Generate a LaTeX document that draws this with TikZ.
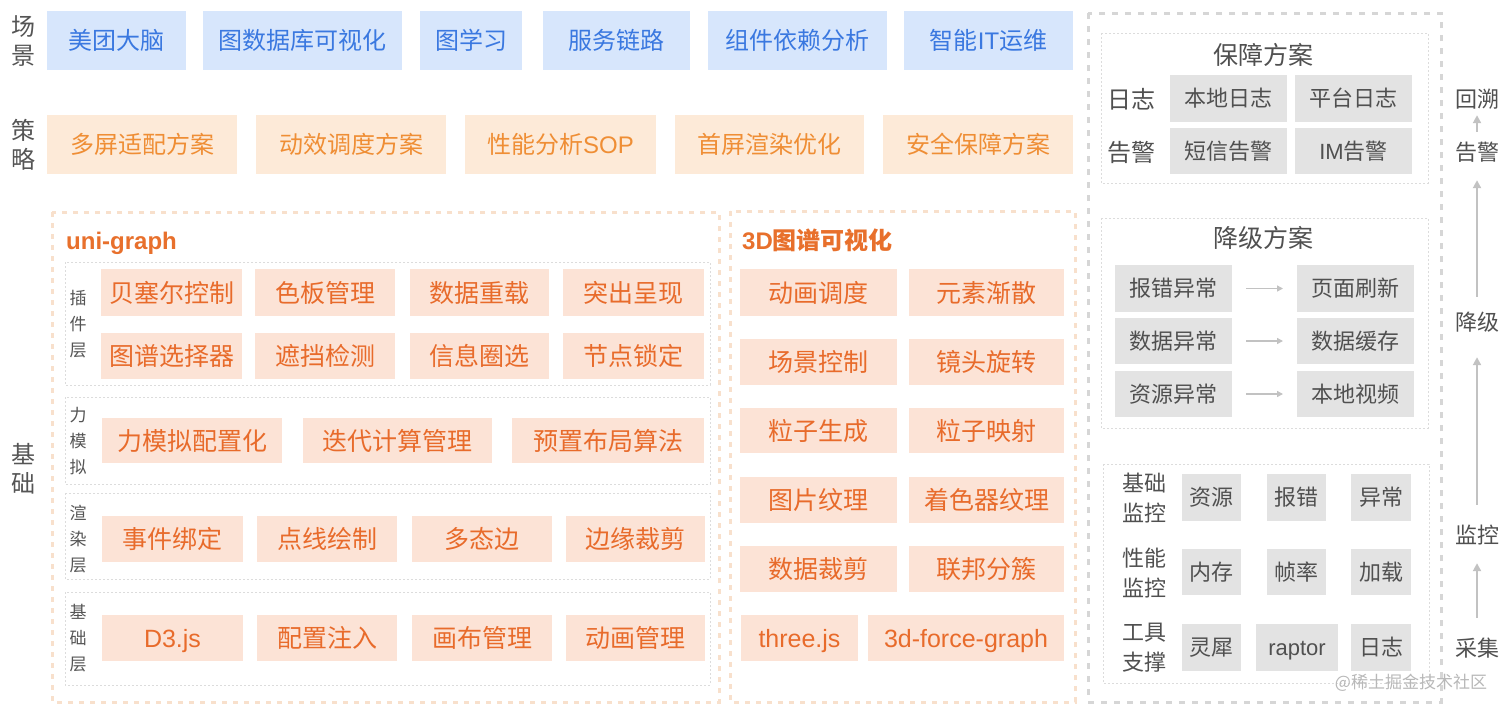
\documentclass[tikz,border=0pt]{standalone}
\usepackage{fontspec}
\setmainfont{Noto Sans CJK SC}
\newfontfamily\lat{Liberation Sans}
\usetikzlibrary{arrows.meta}
\definecolor{sceneFill}{HTML}{D7E6FC}
\definecolor{sceneText}{HTML}{3A78E0}
\definecolor{stratFill}{HTML}{FDEAD8}
\definecolor{stratText}{HTML}{EF8E35}
\definecolor{baseFill}{HTML}{FCE3D6}
\definecolor{baseText}{HTML}{E86B2B}
\definecolor{titleText}{HTML}{E8702C}
\definecolor{grayFill}{HTML}{E3E3E3}
\definecolor{grayText}{HTML}{505050}
\definecolor{labelText}{HTML}{555555}
\definecolor{orangeDash}{HTML}{F8E0CC}
\definecolor{grayDash}{HTML}{D6D6D6}
\definecolor{dotGray}{HTML}{DCDCDC}
\definecolor{arrowGray}{HTML}{C2C2C2}
\newcommand\bx[7]{\node[#1, minimum width={#5-#3}, minimum height={#6-#4}] (#2) at ({(#3+#5)/2},{(#4+#6)/2}) {#7};}
\tikzset{
  box/.style={rectangle, inner sep=0pt, outer sep=0pt},
  scn/.style={box, fill=sceneFill, text=sceneText, text height=21.1pt, text depth=2.9pt, font=\fontsize{24}{28}\selectfont},
  strat/.style={box, fill=stratFill, text=stratText, text height=21.1pt, text depth=2.9pt, font=\fontsize{24}{28}\selectfont},
  fnd/.style={box, fill=baseFill, text=baseText, text height=22pt, text depth=3pt, font=\fontsize{25}{29}\selectfont},
  gbox/.style={box, fill=grayFill, text=grayText, text height=19.4pt, text depth=2.6pt, font=\fontsize{22}{26}\selectfont},
  biglabel/.style={inner sep=0pt, text=labelText, align=center, font=\fontsize{24}{29}\selectfont},
  layerlabel/.style={inner sep=0pt, text=labelText, align=center, font=\fontsize{17}{26}\selectfont},
  monlabel/.style={inner sep=0pt, text=grayText, align=center, font=\fontsize{22}{30}\selectfont},
  sidelabel/.style={inner sep=0pt, text=grayText, text height=19pt, text depth=3pt, font=\fontsize{22}{26}\selectfont},
  paneltitle/.style={inner sep=0pt, text=grayText, font=\fontsize{25}{29}\selectfont},
  sectitle/.style={inner sep=0pt, anchor=west, text=titleText, text height=21.1pt, text depth=2.9pt, font=\fontsize{24}{28}\selectfont\bfseries},
  orangeframe/.style={draw=orangeDash, line width=3pt, dash pattern=on 5pt off 6pt},
  grayframe/.style={draw=grayDash, line width=3pt, dash pattern=on 6pt off 7pt},
  dotframe/.style={draw=dotGray, line width=1pt, dash pattern=on 2pt off 2pt},
  uparrow/.style={draw=arrowGray, line width=2pt, -{Triangle[length=8pt,width=8pt]}},
  smallarrow/.style={draw=arrowGray, line width=1.5pt, -{Triangle[length=6pt,width=6pt]}, shorten <=14pt, shorten >=14pt},
}
\begin{document}
\begin{tikzpicture}[x=1pt,y=-1pt]
\useasboundingbox (0,0) rectangle (1512,713);
\fill[white] (0,0) rectangle (1512,713);

% left labels
\node[biglabel] (lblScene) at (24,41) {场\\景};
\node[biglabel] (lblStrat) at (24,145) {策\\略};
\node[biglabel] (lblBase) at (24,469) {基\\础};

% scene row
\bx{scn}{s1}{47}{11}{186}{70}{美团大脑}
\bx{scn}{s2}{203}{11}{402}{70}{图数据库可视化}
\bx{scn}{s3}{420}{11}{522}{70}{图学习}
\bx{scn}{s4}{543}{11}{690}{70}{服务链路}
\bx{scn}{s5}{708}{11}{887}{70}{组件依赖分析}
\bx{scn}{s6}{904}{11}{1073}{70}{智能{\lat IT}运维}

% strategy row
\bx{strat}{t1}{47}{115}{237}{174}{多屏适配方案}
\bx{strat}{t2}{256}{115}{446}{174}{动效调度方案}
\bx{strat}{t3}{465}{115}{656}{174}{性能分析{\lat SOP}}
\bx{strat}{t4}{675}{115}{864}{174}{首屏渲染优化}
\bx{strat}{t5}{883}{115}{1073}{174}{安全保障方案}

% uni-graph frame
\draw[orangeframe] (52,212) rectangle (719,702);
\node[sectitle] (uniTitle) at (66,240) {\lat uni-graph};
\draw[dotframe] (65,262) rectangle (710,385);
\draw[dotframe] (65,397) rectangle (710,484);
\draw[dotframe] (65,493) rectangle (710,579);
\draw[dotframe] (65,592) rectangle (710,685);
\node[layerlabel] (lblPlugin) at (78,324) {插\\件\\层};
\node[layerlabel] (lblForce) at (78,441) {力\\模\\拟};
\node[layerlabel] (lblRender) at (78,539) {渲\\染\\层};
\node[layerlabel] (lblLayerBase) at (78,638) {基\\础\\层};

\bx{fnd}{p11}{101}{269}{242}{316}{贝塞尔控制}
\bx{fnd}{p12}{255}{269}{395}{316}{色板管理}
\bx{fnd}{p13}{410}{269}{549}{316}{数据重载}
\bx{fnd}{p14}{563}{269}{704}{316}{突出呈现}
\bx{fnd}{p21}{101}{333}{242}{379}{图谱选择器}
\bx{fnd}{p22}{255}{333}{395}{379}{遮挡检测}
\bx{fnd}{p23}{410}{333}{549}{379}{信息圈选}
\bx{fnd}{p24}{563}{333}{704}{379}{节点锁定}

\bx{fnd}{f1}{102}{418}{282}{463}{力模拟配置化}
\bx{fnd}{f2}{303}{418}{492}{463}{迭代计算管理}
\bx{fnd}{f3}{512}{418}{704}{463}{预置布局算法}

\bx{fnd}{r1}{102}{516}{243}{562}{事件绑定}
\bx{fnd}{r2}{257}{516}{397}{562}{点线绘制}
\bx{fnd}{r3}{412}{516}{552}{562}{多态边}
\bx{fnd}{r4}{566}{516}{705}{562}{边缘裁剪}

\bx{fnd}{b1}{102}{615}{243}{661}{\lat D3.js}
\bx{fnd}{b2}{257}{615}{397}{661}{配置注入}
\bx{fnd}{b3}{412}{615}{552}{661}{画布管理}
\bx{fnd}{b4}{566}{615}{705}{661}{动画管理}

% 3D frame
\draw[orangeframe] (730,211) rectangle (1075,702);
\node[sectitle] (threeTitle) at (742,240) {{\lat 3D}图谱可视化};
\bx{fnd}{d11}{740}{269}{897}{316}{动画调度}
\bx{fnd}{d12}{909}{269}{1064}{316}{元素渐散}
\bx{fnd}{d21}{740}{339}{897}{385}{场景控制}
\bx{fnd}{d22}{909}{339}{1064}{385}{镜头旋转}
\bx{fnd}{d31}{740}{408}{897}{453}{粒子生成}
\bx{fnd}{d32}{909}{408}{1064}{453}{粒子映射}
\bx{fnd}{d41}{740}{477}{897}{523}{图片纹理}
\bx{fnd}{d42}{909}{477}{1064}{523}{着色器纹理}
\bx{fnd}{d51}{740}{546}{897}{592}{数据裁剪}
\bx{fnd}{d52}{909}{546}{1064}{592}{联邦分簇}
\bx{fnd}{d61}{741}{615}{858}{661}{\lat three.js}
\bx{fnd}{d62}{868}{615}{1064}{661}{\lat 3d-force-graph}

% right panel
\draw[grayframe] (1088,13) rectangle (1441,702);

\draw[dotframe] (1101,33) rectangle (1428,183);
\node[paneltitle] (gTitle) at (1263,55) {保障方案};
\node[biglabel, text=grayText] (lblLog) at (1131,99) {日志};
\node[biglabel, text=grayText] (lblAlarm) at (1131,152) {告警};
\bx{gbox}{g11}{1170}{75}{1287}{122}{本地日志}
\bx{gbox}{g12}{1295}{75}{1412}{122}{平台日志}
\bx{gbox}{g21}{1170}{128}{1287}{174}{短信告警}
\bx{gbox}{g22}{1295}{128}{1412}{174}{{\lat IM}告警}

\draw[dotframe] (1101,218) rectangle (1428,428);
\node[paneltitle] (jTitle) at (1263,238) {降级方案};
\bx{gbox}{j11}{1115}{265}{1232}{312}{报错异常}
\bx{gbox}{j12}{1297}{265}{1414}{312}{页面刷新}
\bx{gbox}{j21}{1115}{318}{1232}{364}{数据异常}
\bx{gbox}{j22}{1297}{318}{1414}{364}{数据缓存}
\bx{gbox}{j31}{1115}{371}{1232}{417}{资源异常}
\bx{gbox}{j32}{1297}{371}{1414}{417}{本地视频}
\draw[smallarrow] (j11) -- (j12);
\draw[smallarrow] (j21) -- (j22);
\draw[smallarrow] (j31) -- (j32);

\draw[dotframe] (1103,464) rectangle (1429,683);
\node[monlabel] (lblM1) at (1144,498) {基础\\监控};
\node[monlabel] (lblM2) at (1144,573) {性能\\监控};
\node[monlabel] (lblM3) at (1144,648) {工具\\支撑};
\bx{gbox}{m11}{1182}{474}{1241}{521}{资源}
\bx{gbox}{m12}{1267}{474}{1326}{521}{报错}
\bx{gbox}{m13}{1351}{474}{1411}{521}{异常}
\bx{gbox}{m21}{1182}{549}{1241}{595}{内存}
\bx{gbox}{m22}{1267}{549}{1326}{595}{帧率}
\bx{gbox}{m23}{1351}{549}{1411}{595}{加载}
\bx{gbox}{m31}{1182}{624}{1241}{671}{灵犀}
\bx{gbox}{m32}{1256}{624}{1338}{671}{\lat raptor}
\bx{gbox}{m33}{1351}{624}{1411}{671}{日志}

% right column
\node[sidelabel] (cHuisu) at (1477,99) {回溯};
\node[sidelabel] (cGaojing) at (1477,152) {告警};
\node[sidelabel] (cJiangji) at (1477,322) {降级};
\node[sidelabel] (cJiankong) at (1477,535) {监控};
\node[sidelabel] (cCaiji) at (1477,648) {采集};
\draw[uparrow, shorten <=19pt, shorten >=17pt] (cCaiji) -- (cJiankong);
\draw[uparrow, shorten <=19pt, shorten >=24pt] (cJiankong) -- (cJiangji);
\draw[uparrow, shorten <=14pt, shorten >=17pt] (cJiangji) -- (cGaojing);
\draw[uparrow, shorten <=9pt, shorten >=5pt] (cGaojing) -- (cHuisu);

% watermark
\node[inner sep=0pt, text=black!28, font=\fontsize{17}{20}\selectfont] (wm) at (1411,683) {@稀土掘金技术社区};
\end{tikzpicture}
\end{document}
